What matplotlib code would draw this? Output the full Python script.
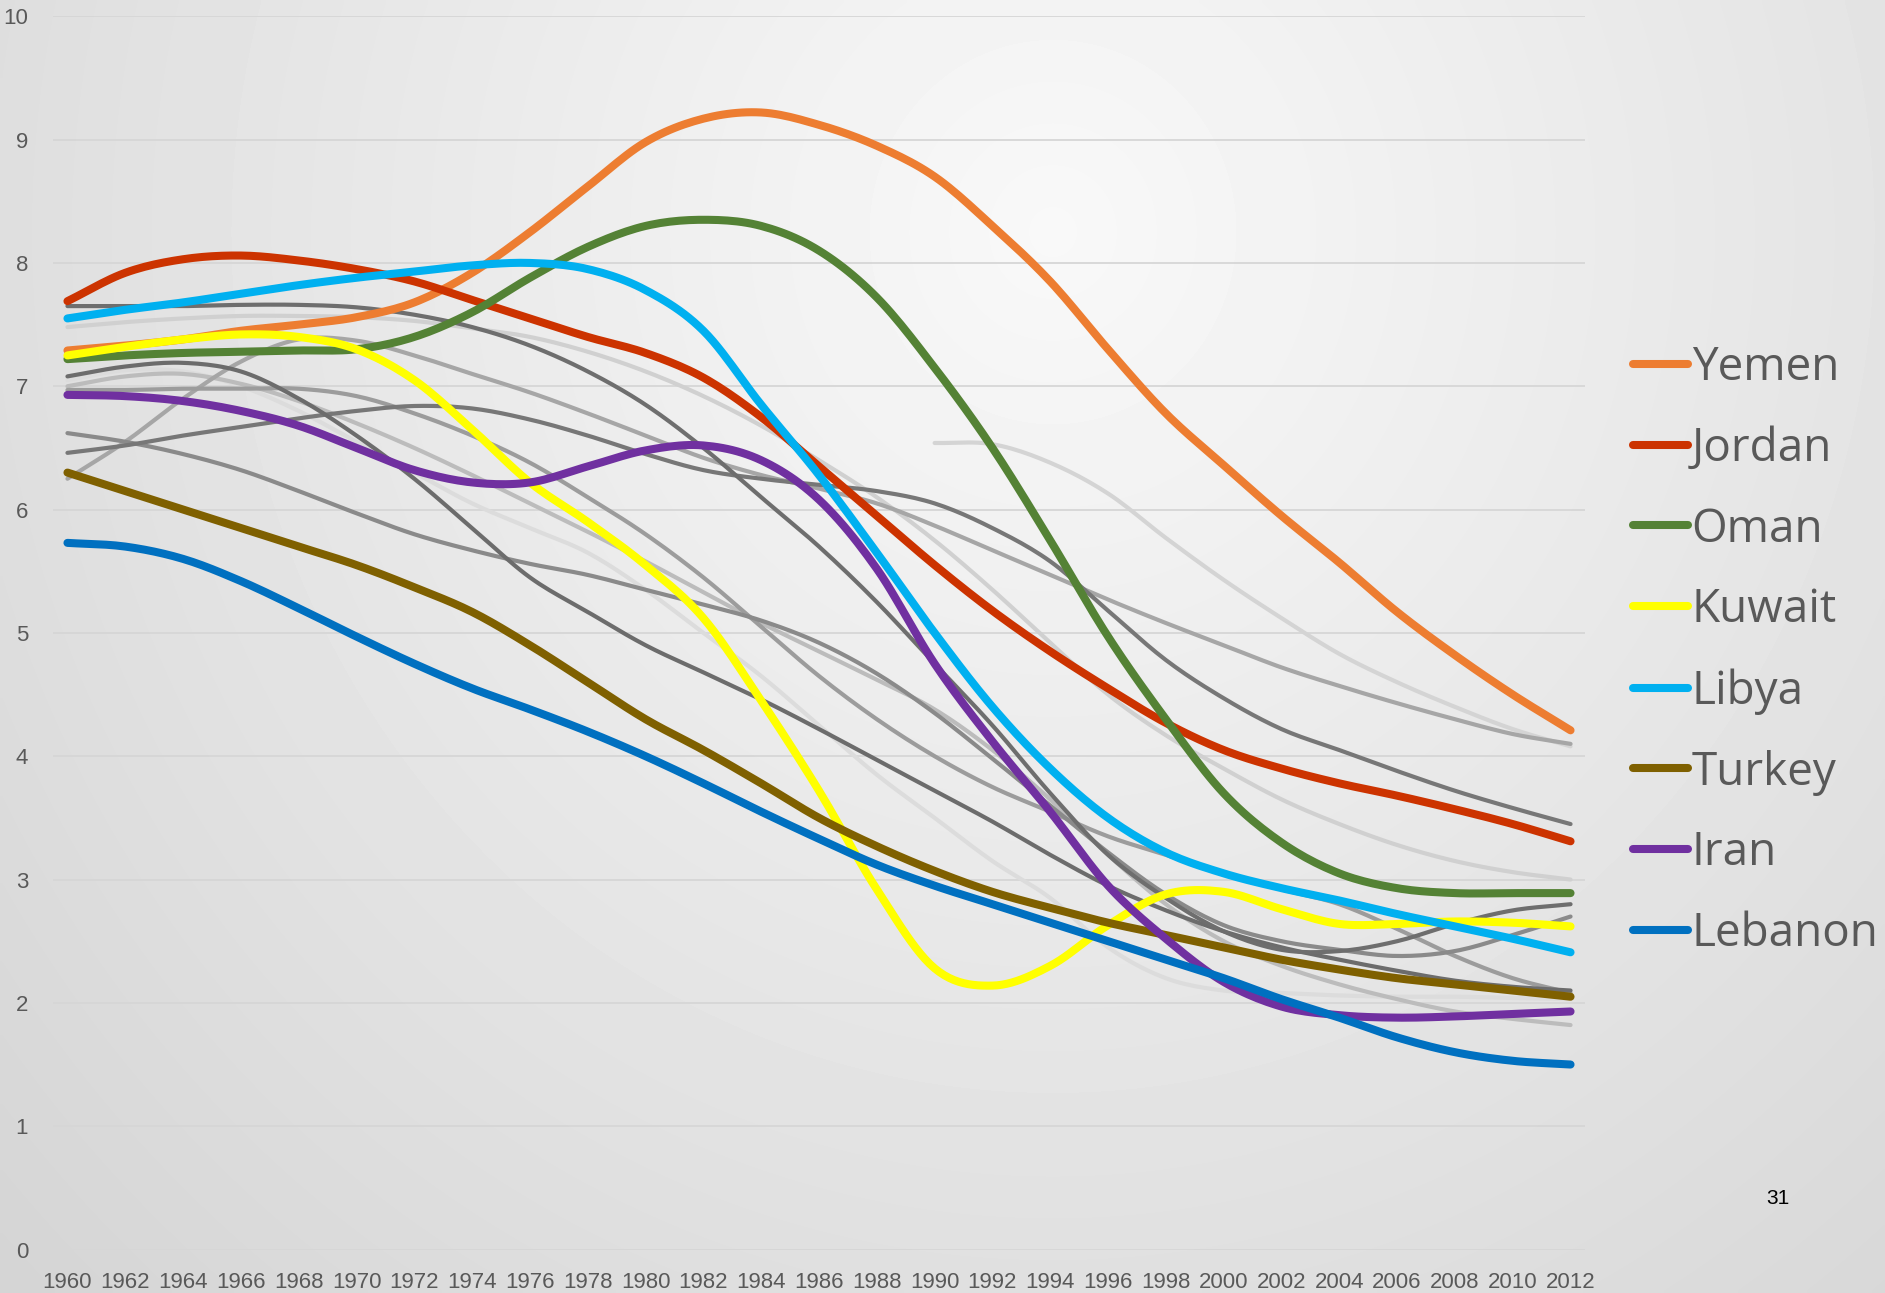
import matplotlib

matplotlib.use("Agg")
import matplotlib.pyplot as plt
import numpy as np

# total fertility rate, read every second year 1960-2012
years = list(range(1960, 2013, 2))

yemen = [7.29, 7.33, 7.38, 7.45, 7.50, 7.56, 7.68, 7.92, 8.25, 8.62, 8.98, 9.17, 9.22,
         9.12, 8.95, 8.70, 8.30, 7.85, 7.30, 6.78, 6.36, 5.95, 5.57, 5.17, 4.82, 4.50, 4.21]
jordan = [7.69, 7.92, 8.03, 8.06, 8.02, 7.95, 7.85, 7.70, 7.55, 7.40, 7.27, 7.07, 6.75,
          6.35, 5.95, 5.55, 5.18, 4.85, 4.55, 4.27, 4.05, 3.90, 3.78, 3.68, 3.57, 3.45, 3.31]
oman = [7.22, 7.25, 7.27, 7.28, 7.29, 7.30, 7.40, 7.60, 7.88, 8.13, 8.30, 8.35, 8.30,
        8.10, 7.72, 7.15, 6.50, 5.75, 4.97, 4.30, 3.70, 3.30, 3.05, 2.93, 2.89, 2.89, 2.89]
kuwait = [7.25, 7.32, 7.38, 7.42, 7.40, 7.30, 7.05, 6.65, 6.22, 5.90, 5.55, 5.12, 4.45,
          3.72, 2.92, 2.28, 2.14, 2.30, 2.63, 2.88, 2.90, 2.76, 2.64, 2.64, 2.66, 2.65, 2.62]
libya = [7.55, 7.62, 7.68, 7.75, 7.82, 7.88, 7.93, 7.98, 8.00, 7.95, 7.78, 7.45, 6.85,
         6.28, 5.65, 5.00, 4.40, 3.90, 3.50, 3.22, 3.05, 2.93, 2.83, 2.72, 2.62, 2.52, 2.41]
turkey = [6.30, 6.15, 6.00, 5.85, 5.70, 5.55, 5.37, 5.17, 4.90, 4.60, 4.30, 4.05, 3.78,
          3.50, 3.27, 3.07, 2.90, 2.77, 2.65, 2.55, 2.45, 2.35, 2.27, 2.20, 2.15, 2.10, 2.05]
iran = [6.93, 6.92, 6.88, 6.80, 6.68, 6.50, 6.32, 6.22, 6.22, 6.35, 6.48, 6.52, 6.40,
        6.08, 5.52, 4.75, 4.12, 3.55, 2.95, 2.52, 2.17, 1.97, 1.90, 1.88, 1.89, 1.91, 1.93]
lebanon = [5.73, 5.70, 5.60, 5.42, 5.20, 4.97, 4.75, 4.55, 4.38, 4.20, 4.00, 3.78, 3.55,
           3.33, 3.12, 2.95, 2.80, 2.65, 2.50, 2.35, 2.20, 2.03, 1.88, 1.72, 1.60, 1.53, 1.50]

# other countries of the region, drawn in grey behind the highlighted ones
other_a = [7.65, 7.65, 7.65, 7.66, 7.66, 7.64, 7.58, 7.48, 7.33, 7.12, 6.85, 6.50, 6.10,
           5.70, 5.25, 4.75, 4.25, 3.70, 3.20, 2.85, 2.58, 2.43, 2.42, 2.50, 2.64, 2.75, 2.80]
other_b = [7.48, 7.52, 7.55, 7.57, 7.57, 7.56, 7.53, 7.47, 7.40, 7.28, 7.12, 6.92, 6.68,
           6.40, 6.10, 5.75, 5.35, 4.92, 4.50, 4.17, 3.90, 3.65, 3.45, 3.28, 3.15, 3.06, 3.00]
other_c = [np.nan] * 15 + [6.54, 6.53, 6.38, 6.13, 5.77, 5.43, 5.12, 4.83, 4.60, 4.40, 4.22, 4.08]
other_d = [6.25, 6.55, 6.90, 7.20, 7.38, 7.37, 7.25, 7.10, 6.95, 6.78, 6.60, 6.42, 6.28,
           6.17, 6.05, 5.87, 5.67, 5.47, 5.27, 5.08, 4.90, 4.72, 4.57, 4.43, 4.30, 4.18, 4.10]
other_e = [6.46, 6.52, 6.60, 6.67, 6.74, 6.80, 6.84, 6.82, 6.73, 6.60, 6.45, 6.32, 6.25,
           6.20, 6.15, 6.05, 5.85, 5.58, 5.18, 4.78, 4.47, 4.22, 4.05, 3.88, 3.72, 3.58, 3.45]
other_f = [7.08, 7.16, 7.19, 7.12, 6.90, 6.60, 6.25, 5.85, 5.45, 5.17, 4.90, 4.68, 4.46,
           4.22, 3.97, 3.72, 3.47, 3.20, 2.95, 2.75, 2.58, 2.45, 2.35, 2.26, 2.18, 2.13, 2.10]
other_g = [7.05, 7.13, 7.12, 7.00, 6.80, 6.55, 6.30, 6.05, 5.85, 5.65, 5.35, 5.00, 4.65,
           4.25, 3.85, 3.50, 3.15, 2.85, 2.45, 2.20, 2.10, 2.08, 2.06, 2.05, 2.05, 2.04, 2.03]
other_h = [6.97, 6.97, 6.98, 6.98, 6.98, 6.92, 6.78, 6.60, 6.38, 6.10, 5.80, 5.45, 5.05,
           4.65, 4.30, 4.00, 3.75, 3.55, 3.35, 3.20, 3.05, 2.92, 2.80, 2.60, 2.38, 2.20, 2.08]
other_i = [6.62, 6.55, 6.45, 6.32, 6.15, 5.97, 5.80, 5.67, 5.56, 5.47, 5.35, 5.23, 5.10,
           4.92, 4.67, 4.35, 3.98, 3.60, 3.22, 2.88, 2.63, 2.50, 2.43, 2.38, 2.42, 2.55, 2.70]
other_j = [7.00, 7.08, 7.10, 7.02, 6.88, 6.70, 6.50, 6.28, 6.05, 5.82, 5.58, 5.33, 5.08,
           4.85, 4.62, 4.38, 4.05, 3.65, 3.20, 2.80, 2.50, 2.30, 2.15, 2.03, 1.93, 1.87, 1.82]

highlight = [("Yemen", yemen, "#ed7d31"), ("Jordan", jordan, "#cc3300"),
             ("Oman", oman, "#548235"), ("Kuwait", kuwait, "#ffff00"),
             ("Libya", libya, "#00b0f0"), ("Turkey", turkey, "#7f6000"),
             ("Iran", iran, "#7030a0"), ("Lebanon", lebanon, "#0070c0")]
others = [(other_b, "#d0d0d0"), (other_c, "#d4d4d4"), (other_g, "#dcdcdc"),
          (other_j, "#bcbcbc"), (other_d, "#a6a6a6"), (other_h, "#9c9c9c"),
          (other_i, "#8a8a8a"), (other_e, "#777777"), (other_f, "#6c6c6c"),
          (other_a, "#6e6e6e")]


def smooth(x, y, steps=12):
    """Catmull-Rom curve through the points, like a smoothed spreadsheet line."""
    x = np.asarray(x, float); y = np.asarray(y, float)
    ok = ~np.isnan(y)
    x, y = x[ok], y[ok]
    px = np.concatenate([[2 * x[0] - x[1]], x, [2 * x[-1] - x[-2]]])
    py = np.concatenate([[2 * y[0] - y[1]], y, [2 * y[-1] - y[-2]]])
    t = np.linspace(0, 1, steps, endpoint=False)[:, None]

    def seg(p):
        p0, p1, p2, p3 = p[:-3], p[1:-2], p[2:-1], p[3:]
        c = 0.5 * (2 * p1 + (-p0 + p2) * t + (2 * p0 - 5 * p1 + 4 * p2 - p3) * t ** 2
                   + (-p0 + 3 * p1 - 3 * p2 + p3) * t ** 3)
        return np.append(c.T.ravel(), p[-2])

    return seg(px), seg(py)


W, H = 1885, 1293
fig = plt.figure(figsize=(W / 100, H / 100), dpi=100)

# soft radial backdrop, light near the top middle and greyer towards the corners
bg = fig.add_axes([0, 0, 1, 1])
gx, gy = np.meshgrid(np.arange(0, W, 5), np.arange(0, H, 5))
dist = np.hypot((gx - 1050) / 1.0, (gy - 230) / 1.05)
shade = np.clip(0.975 - 0.000098 * dist, 0.80, 1.0)
bg.imshow(shade, cmap="gray", vmin=0, vmax=1, aspect="auto", extent=(0, 1, 0, 1),
          interpolation="bilinear")
bg.axis("off")

ax = fig.add_axes([53 / W, 1 - 1249.5 / H, 1532 / W, (1249.5 - 16.3) / H])
ax.set_facecolor("none")
for s in ax.spines.values():
    s.set_visible(False)

for vals, col in others:
    sx, sy = smooth(years, vals)
    ax.plot(sx, sy, color=col, lw=3.0, solid_capstyle="round", zorder=2)

handles = []
for name, vals, col in highlight:
    sx, sy = smooth(years, vals)
    ln, = ax.plot(sx, sy, color=col, lw=5.8, solid_capstyle="round", zorder=3, label=name)
    handles.append(ln)

ax.set_xlim(1959.5, 2012.5)
ax.set_ylim(0, 10)
ax.set_yticks(range(0, 11))
ax.set_xticks(years)
ax.grid(axis="y", color="#d6d6d6", lw=1.3, zorder=1)
ax.set_axisbelow(True)

tick_font = ["Liberation Sans", "DejaVu Sans"]
ax.tick_params(length=0, colors="#595959", labelsize=16)
ax.tick_params(axis="x", pad=16)
ax.tick_params(axis="y", pad=18)
for lab in ax.get_xticklabels() + ax.get_yticklabels():
    lab.set_fontfamily(tick_font)

leg = fig.legend(handles=handles, loc="center left", bbox_to_anchor=(1633 / W, 1 - 651 / H),
                 frameon=False, handlelength=1.2, handletextpad=0.08,
                 labelspacing=0.76, borderpad=0, borderaxespad=0,
                 prop={"family": ["Open Sans", "DejaVu Sans"], "size": 33})
for txt in leg.get_texts():
    txt.set_color("#595959")

fig.text(1778 / W, 1 - 1198 / H, "31", ha="center", va="center", fontsize=15, color="black",
         family=["Liberation Sans", "DejaVu Sans"])

fig.savefig("out.png", dpi=100)
